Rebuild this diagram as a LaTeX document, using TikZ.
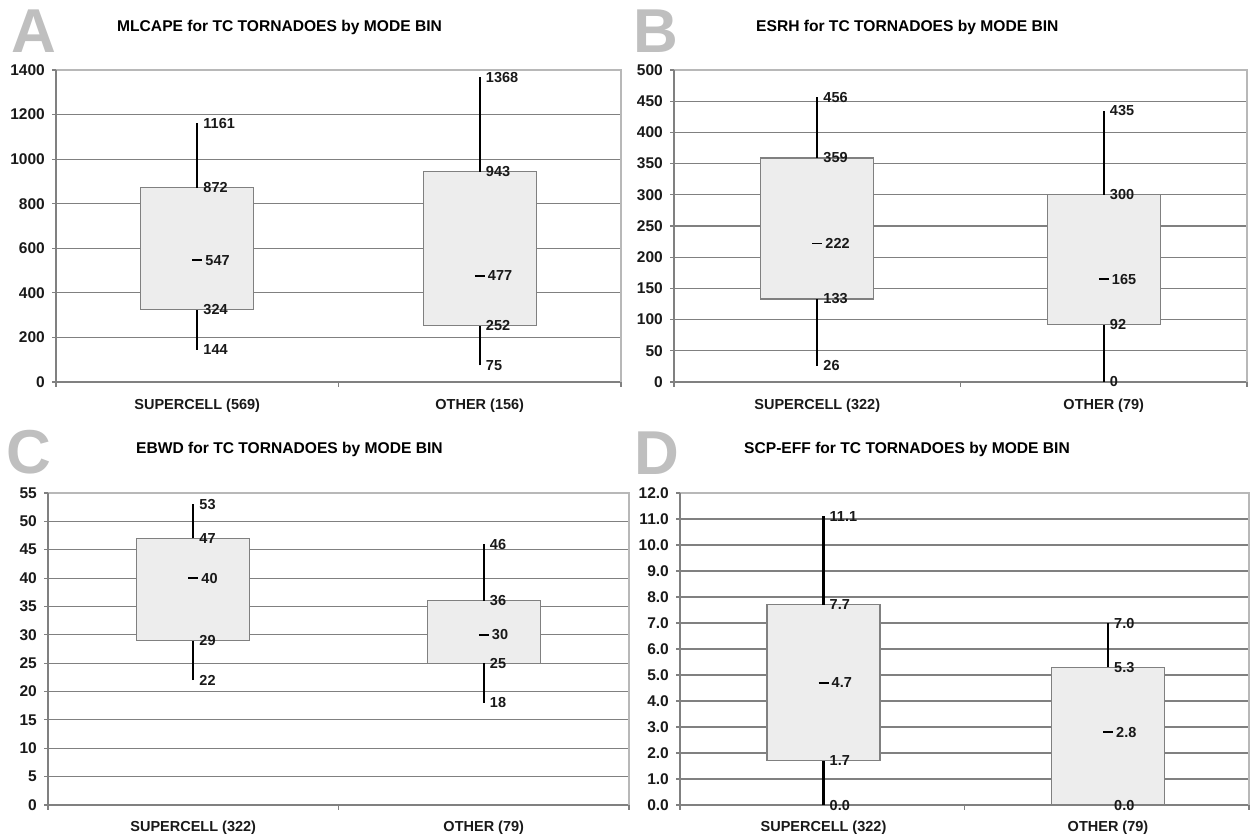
\documentclass[tikz,border=0pt]{standalone}
\usepackage{fontspec}
\setmainfont{Liberation Sans}
\tikzset{
 gridl/.style={draw=black!50, line width=1.1pt},
 framel/.style={draw=black!28, line width=1.1pt},
 axisl/.style={draw=black!50, line width=1.1pt},
 boxs/.style={draw=black!50, fill=black!7, line width=1.1pt},
 whisk/.style={draw=black, line width=2.4pt},
 medl/.style={draw=black, line width=1.6pt},
 vlab/.style={font=\fontsize{14.5}{16}\selectfont\bfseries, anchor=west, inner sep=0pt, text=black!90},
 ticklab/.style={font=\fontsize{15.5}{17}\selectfont\bfseries, anchor=east, inner sep=0pt, text=black!90},
 catlab/.style={font=\fontsize{14.5}{16}\selectfont\bfseries, inner sep=0pt, text=black!90},
 ttl/.style={font=\fontsize{15.6}{18}\selectfont\bfseries, anchor=base west, inner sep=0pt},
 bigl/.style={font=\fontsize{62}{66}\selectfont\bfseries, text=black!25, anchor=base west, inner sep=0pt},
}
% #1 name, #2 width, #3 list value/label, #4 top value
\newcommand\pframe[4]{%
 \foreach \v/\t [count=\i] in {#3}{
   \draw[gridl] (0,\v) -- (#2,\v);
   \draw[axisl] (-4,\v) -- (0,\v);
   \node[ticklab] (#1-t\i) at (-11,\v) {\t};
 }
 \draw[framel] (0,#4) -- (#2,#4) -- (#2,0);
 \draw[axisl] (0,#4) -- (0,0);
 \draw[axisl] (0,0) -- ++(0pt,-5pt);
 \draw[axisl] (#2/2,0) -- ++(0pt,-5pt);
 \draw[axisl] (#2,0) -- ++(0pt,-5pt);
}
% #1 name, #2 xc, #3 min, #4 q1, #5 med, #6 q3, #7 max
\newcommand\bplot[7]{%
 \draw[boxs] (#2-56.5,#4) rectangle (#2+56.5,#6);
 \draw[whisk] (#2,#6) -- (#2,#7);
 \draw[whisk] (#2,#3) -- (#2,#4);
 \draw[medl] (#2-5,#5) -- (#2+5,#5);
 \node[vlab] (#1-max) at (#2+6,#7) {#7};
 \node[vlab] (#1-q3) at (#2+6,#6) {#6};
 \node[vlab] (#1-med) at (#2+8,#5) {#5};
 \node[vlab] (#1-q1) at (#2+6,#4) {#4};
 \pgfmathparse{(#3==#4)?1:0}%
 \ifnum\pgfmathresult=0
   \node[vlab] (#1-min) at (#2+6,#3) {#3};
 \fi
}
\begin{document}
\begin{tikzpicture}[x=1pt,y=-1pt]
\useasboundingbox (0,0) rectangle (1250,836);
% letters and titles
\node[bigl] (LA) at (11,52) {A};
\node[bigl] (LB) at (633,52) {B};
\node[bigl] (LC) at (6,473) {C};
\node[bigl] (LD) at (634,474) {D};
\node[ttl] (TA) at (117,31) {MLCAPE for TC TORNADOES by MODE BIN};
\node[ttl] (TB) at (756,31) {ESRH for TC TORNADOES by MODE BIN};
\node[ttl] (TC) at (136,453) {EBWD for TC TORNADOES by MODE BIN};
\node[ttl] (TD) at (744,453) {SCP-EFF for TC TORNADOES by MODE BIN};
% Panel A
\begin{scope}[shift={(56,382)}, y=0.222857pt]
 \pframe{A}{565}{0/0,200/200,400/400,600/600,800/800,1000/1000,1200/1200,1400/1400}{1400}
 \bplot{Asc}{141.25}{144}{324}{547}{872}{1161}
 \bplot{Aot}{423.75}{75}{252}{477}{943}{1368}
 \node[catlab, yshift=-24pt] (Acs) at (141.25,0) {SUPERCELL (569)};
 \node[catlab, yshift=-24pt] (Aco) at (423.75,0) {OTHER (156)};
\end{scope}
% Panel B
\begin{scope}[shift={(674,382)}, y=0.624pt]
 \pframe{B}{573}{0/0,50/50,100/100,150/150,200/200,250/250,300/300,350/350,400/400,450/450,500/500}{500}
 \bplot{Bsc}{143.25}{26}{133}{222}{359}{456}
 \bplot{Bot}{429.75}{0}{92}{165}{300}{435}
 \node[catlab, yshift=-24pt] (Bcs) at (143.25,0) {SUPERCELL (322)};
 \node[catlab, yshift=-24pt] (Bco) at (429.75,0) {OTHER (79)};
\end{scope}
% Panel C
\begin{scope}[shift={(48,805)}, y=5.672727pt]
 \pframe{C}{581}{0/0,5/5,10/10,15/15,20/20,25/25,30/30,35/35,40/40,45/45,50/50,55/55}{55}
 \bplot{Csc}{145.25}{22}{29}{40}{47}{53}
 \bplot{Cot}{435.75}{18}{25}{30}{36}{46}
 \node[catlab, yshift=-23pt] (Ccs) at (145.25,0) {SUPERCELL (322)};
 \node[catlab, yshift=-23pt] (Cco) at (435.75,0) {OTHER (79)};
\end{scope}
% Panel D
\begin{scope}[shift={(680,805)}, y=26pt]
 \pframe{D}{569}{0/0.0,1/1.0,2/2.0,3/3.0,4/4.0,5/5.0,6/6.0,7/7.0,8/8.0,9/9.0,10/10.0,11/11.0,12/12.0}{12}
 \bplot{Dsc}{143.5}{0.0}{1.7}{4.7}{7.7}{11.1}
 \bplot{Dot}{428}{0.0}{0.0}{2.8}{5.3}{7.0}
 \node[catlab, yshift=-23pt] (Dcs) at (143.5,0) {SUPERCELL (322)};
 \node[catlab, yshift=-23pt] (Dco) at (428,0) {OTHER (79)};
\end{scope}
\end{tikzpicture}
\end{document}
